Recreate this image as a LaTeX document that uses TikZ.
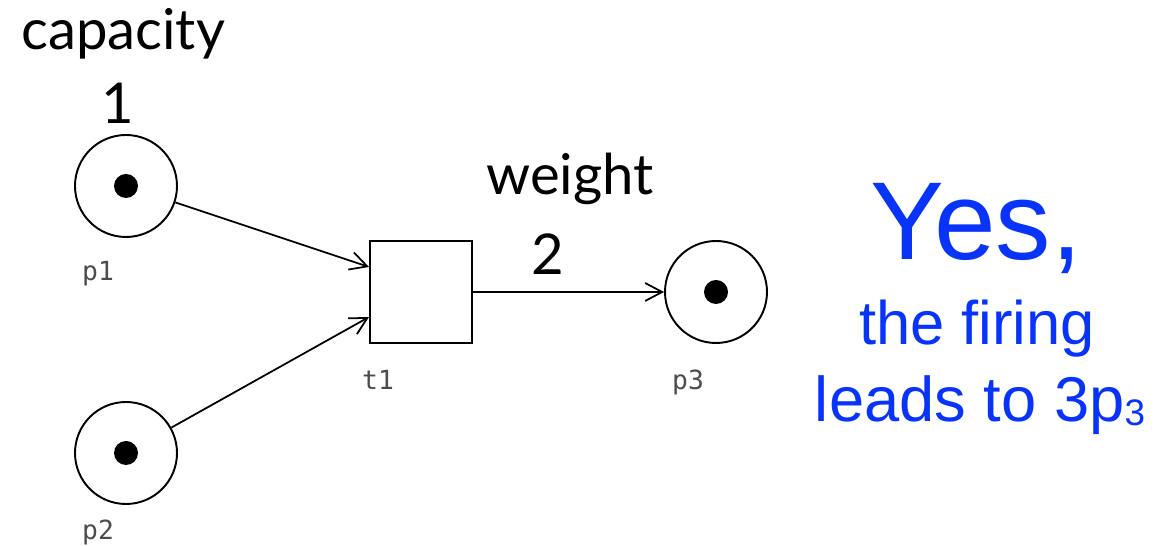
\documentclass[tikz,border=0pt]{standalone}
\usepackage{fontspec}
\setmainfont{Lato}
\newfontfamily\labelfont{DejaVu Sans Mono}
\newfontfamily\answerfont{Liberation Sans}
\usetikzlibrary{arrows.meta, positioning}
\definecolor{answerblue}{RGB}{8, 52, 250}

\begin{document}
\begin{tikzpicture}[
    place/.style={circle, draw, line width=1.1pt, minimum size=2.04cm, inner sep=0pt},
    trans/.style={rectangle, draw, line width=1.1pt, minimum width=2.04cm, minimum height=2.04cm},
    token/.style={circle, fill=black, minimum size=0.48cm, inner sep=0pt},
    tag/.style={font=\labelfont\fontsize{15}{15}\selectfont, text=black!70, inner sep=0pt},
    note/.style={font=\fontsize{32}{34}\selectfont, anchor=base},
    arc/.style={line width=1pt, -{Straight Barb[length=3.4mm, width=3.6mm]}}
]
\useasboundingbox (0,0) rectangle (23.12,10.92);

% --- Net ---
\node[place] (p1) at (2.52,7.20) {};
\node[token] (k1) at (p1) {};
\node[tag, below=0.45cm of p1, xshift=-0.56cm] (p1lab) {p1};

\node[place] (p2) at (2.52,1.86) {};
\node[token] (k2) at (p2) {};
\node[tag, below=0.3cm of p2, xshift=-0.56cm] (p2lab) {p2};

\node[trans] (t1) at (8.42,5.08) {};
\node[tag, below=0.52cm of t1, xshift=-0.86cm] (t1lab) {t1};

\node[place] (p3) at (14.32,5.08) {};
\node[token] (k3) at (p3) {};
\node[tag, below=0.52cm of p3, xshift=-0.56cm] (p3lab) {p3};

\draw[arc] (p1) -- ([yshift=0.5cm]t1.west);
\draw[arc] (p2) -- ([yshift=-0.5cm]t1.west);
\draw[arc] (t1) -- (p3);

% --- Annotations ---
\node[note, anchor=base west] (cap) at (0.30,9.92) {capacity};
\node[note] (capval) at (2.36,8.44) {1};
\node[note] (wgt) at (11.40,7.02) {weight};
\node[note] (wgtval) at (10.96,5.42) {2};

% --- Answer ---
\node[anchor=base, text=answerblue, font=\answerfont\fontsize{63}{63}\selectfont] (yes) at (19.52,5.72) {Yes,};
\node[anchor=base, text=answerblue, font=\answerfont\fontsize{35}{36}\selectfont] (firing) at (19.54,4.02) {the firing};
\node[anchor=base, text=answerblue, font=\answerfont\fontsize{36}{36}\selectfont] (leads) at (19.60,2.48)
    {leads to 3p\raisebox{-2pt}{\fontsize{21}{21}\selectfont 3}};
\end{tikzpicture}
\end{document}
